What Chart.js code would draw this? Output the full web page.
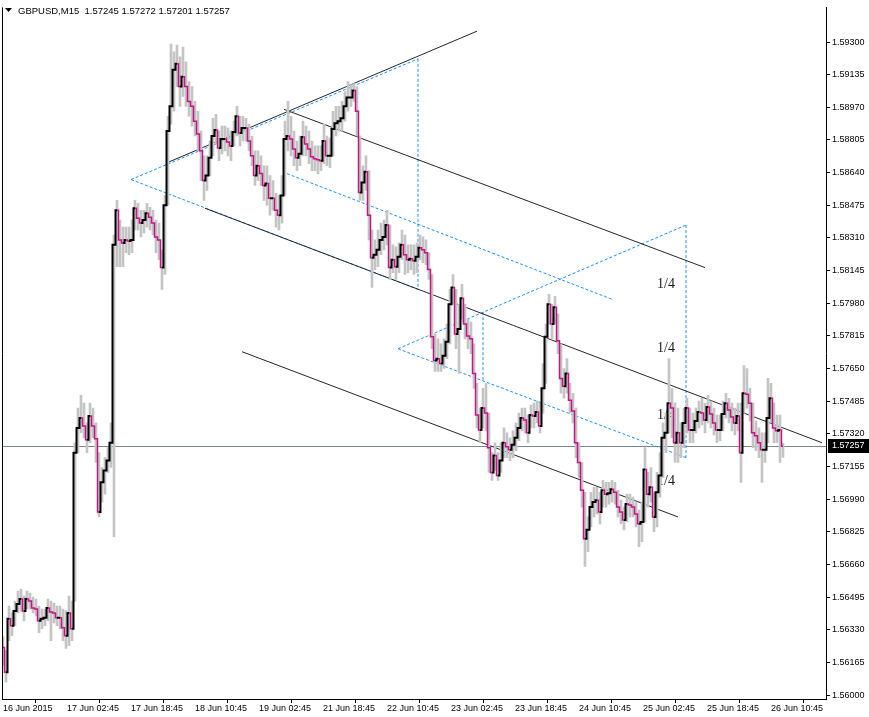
<!DOCTYPE html>
<html><head><meta charset="utf-8">
<script src="https://cdn.jsdelivr.net/npm/chart.js@4.4.0/dist/chart.umd.min.js"></script>
<style>html,body{margin:0;padding:0;background:#fff;overflow:hidden}canvas{display:block}</style>
</head><body>
<canvas id="c" width="869" height="717"></canvas>
<script>
const symbolTitle = 'GBPUSD,M15  1.57245 1.57272 1.57201 1.57257';
const lastClose = 1.57257;
const barsPerSample = 3; // M15 bars per sampled point

const closes = [
1.56240,1.56115,1.56385,1.56350,1.56425,1.56460,1.56485,1.56425,1.56485,1.56475,
1.56440,1.56435,1.56375,1.56385,1.56390,1.56440,1.56420,1.56415,1.56390,1.56390,
1.56340,1.56300,1.56415,1.56335,1.57225,1.57350,1.57400,1.57360,1.57290,1.57410,
1.57360,1.57295,1.56925,1.57075,1.57135,1.57185,1.57275,1.58275,1.58450,1.58300,
1.58285,1.58300,1.58295,1.58300,1.58460,1.58410,1.58385,1.58400,1.58435,1.58415,
1.58385,1.58315,1.58300,1.58160,1.58475,1.58850,1.58975,1.59160,1.59190,1.59075,
1.59125,1.59075,1.59000,1.58975,1.58900,1.58835,1.58750,1.58600,1.58625,1.58715,
1.58825,1.58855,1.58765,1.58810,1.58810,1.58795,1.58775,1.58845,1.58925,1.58840,
1.58865,1.58865,1.58800,1.58725,1.58625,1.58675,1.58635,1.58575,1.58585,1.58510,
1.58510,1.58450,1.58425,1.58525,1.58810,1.58825,1.58810,1.58760,1.58715,1.58735,
1.58820,1.58785,1.58760,1.58720,1.58710,1.58705,1.58700,1.58800,1.58725,1.58725,
1.58860,1.58890,1.58900,1.58915,1.58975,1.59020,1.59020,1.59055,1.58950,1.58540,
1.58590,1.58645,1.58425,1.58210,1.58225,1.58250,1.58300,1.58315,1.58375,1.58160,
1.58200,1.58165,1.58215,1.58275,1.58225,1.58200,1.58205,1.58195,1.58215,1.58260,
1.58250,1.58235,1.58150,1.57810,1.57690,1.57700,1.57675,1.57715,1.57785,1.57975,
1.58060,1.57825,1.57850,1.58005,1.57875,1.57815,1.57800,1.57625,1.57415,1.57340,
1.57450,1.57425,1.57250,1.57125,1.57210,1.57110,1.57185,1.57275,1.57255,1.57240,
1.57265,1.57300,1.57350,1.57400,1.57390,1.57325,1.57415,1.57410,1.57430,1.57360,
1.57550,1.57810,1.57975,1.57875,1.57960,1.57790,1.57600,1.57560,1.57625,1.57490,
1.57435,1.57275,1.57175,1.57035,1.56790,1.56835,1.56950,1.56975,1.56985,1.56925,
1.57035,1.57015,1.57020,1.57040,1.57025,1.56950,1.56925,1.56885,1.56965,1.56960,
1.56950,1.56915,1.56865,1.56875,1.57140,1.57015,1.57050,1.56900,1.57025,1.57110,
1.57300,1.57325,1.57475,1.57450,1.57275,1.57325,1.57275,1.57375,1.57450,1.57340,
1.57340,1.57385,1.57430,1.57425,1.57390,1.57455,1.57420,1.57375,1.57340,1.57340,
1.57420,1.57475,1.57440,1.57405,1.57375,1.57410,1.57225,1.57525,1.57520,1.57475,
1.57325,1.57310,1.57275,1.57240,1.57240,1.57400,1.57500,1.57350,1.57335,1.57340,
1.57257];

const highs = [
1.56295,1.56225,1.56450,1.56415,1.56475,1.56525,1.56535,1.56500,1.56525,1.56515,
1.56495,1.56485,1.56450,1.56435,1.56435,1.56485,1.56475,1.56465,1.56450,1.56450,
1.56435,1.56425,1.56500,1.56475,1.57275,1.57450,1.57515,1.57475,1.57375,1.57475,
1.57450,1.57375,1.57225,1.57150,1.57200,1.57250,1.57375,1.58325,1.58500,1.58400,
1.58365,1.58365,1.58365,1.58400,1.58500,1.58485,1.58450,1.58450,1.58485,1.58465,
1.58450,1.58400,1.58385,1.58250,1.58525,1.58925,1.59290,1.59250,1.59285,1.59225,
1.59275,1.59200,1.59100,1.59075,1.59000,1.58950,1.58850,1.58725,1.58725,1.58800,
1.58915,1.58935,1.58850,1.58875,1.58875,1.58865,1.58850,1.58900,1.58975,1.58925,
1.58925,1.58915,1.58885,1.58825,1.58750,1.58750,1.58725,1.58675,1.58675,1.58625,
1.58600,1.58535,1.58525,1.58625,1.58900,1.59000,1.58925,1.58850,1.58800,1.58825,
1.58900,1.58875,1.58850,1.58800,1.58775,1.58775,1.58775,1.58885,1.58825,1.58815,
1.58950,1.58975,1.58975,1.59000,1.59050,1.59100,1.59085,1.59090,1.59075,1.58825,
1.58675,1.58725,1.58650,1.58350,1.58300,1.58350,1.58385,1.58400,1.58450,1.58375,
1.58275,1.58265,1.58285,1.58350,1.58325,1.58275,1.58275,1.58275,1.58285,1.58325,
1.58315,1.58300,1.58235,1.58125,1.57825,1.57800,1.57775,1.57800,1.57875,1.58050,
1.58125,1.58050,1.57975,1.58075,1.57975,1.57900,1.57885,1.57775,1.57575,1.57450,
1.57550,1.57575,1.57425,1.57225,1.57275,1.57225,1.57275,1.57350,1.57325,1.57300,
1.57335,1.57375,1.57425,1.57450,1.57450,1.57415,1.57465,1.57475,1.57485,1.57475,
1.57675,1.57875,1.58025,1.57975,1.58015,1.57925,1.57775,1.57650,1.57700,1.57575,
1.57525,1.57450,1.57275,1.57175,1.57025,1.56900,1.57025,1.57050,1.57050,1.57025,
1.57085,1.57075,1.57075,1.57085,1.57075,1.57035,1.56985,1.56950,1.57015,1.57015,
1.57000,1.56975,1.56935,1.56975,1.57250,1.57125,1.57150,1.57025,1.57125,1.57225,
1.57375,1.57425,1.57700,1.57550,1.57475,1.57450,1.57375,1.57450,1.57500,1.57450,
1.57425,1.57450,1.57485,1.57500,1.57475,1.57515,1.57485,1.57450,1.57415,1.57415,
1.57485,1.57525,1.57500,1.57475,1.57450,1.57475,1.57475,1.57665,1.57650,1.57550,
1.57475,1.57385,1.57350,1.57325,1.57325,1.57600,1.57575,1.57475,1.57415,1.57415,
1.57272];

const lows = [
1.56150,1.56065,1.56275,1.56300,1.56350,1.56415,1.56425,1.56375,1.56435,1.56435,
1.56415,1.56400,1.56315,1.56335,1.56350,1.56375,1.56275,1.56365,1.56350,1.56335,
1.56275,1.56235,1.56250,1.56275,1.56475,1.57225,1.57325,1.57300,1.57225,1.57275,
1.57300,1.57175,1.56900,1.56975,1.57015,1.57125,1.57150,1.56800,1.58165,1.58165,
1.58165,1.58235,1.58225,1.58235,1.58350,1.58350,1.58315,1.58335,1.58365,1.58350,
1.58325,1.58235,1.58200,1.58050,1.58125,1.58475,1.58885,1.58950,1.59075,1.58975,
1.59025,1.58975,1.58925,1.58875,1.58825,1.58750,1.58600,1.58500,1.58550,1.58625,
1.58725,1.58785,1.58700,1.58735,1.58750,1.58725,1.58700,1.58775,1.58825,1.58775,
1.58800,1.58800,1.58750,1.58675,1.58575,1.58600,1.58575,1.58500,1.58475,1.58425,
1.58450,1.58365,1.58350,1.58385,1.58525,1.58750,1.58725,1.58675,1.58650,1.58675,
1.58725,1.58725,1.58685,1.58650,1.58650,1.58635,1.58650,1.58685,1.58675,1.58665,
1.58725,1.58825,1.58850,1.58850,1.58900,1.58950,1.58975,1.59000,1.58825,1.58500,
1.58500,1.58550,1.58300,1.58060,1.58150,1.58165,1.58225,1.58250,1.58275,1.58100,
1.58135,1.58100,1.58135,1.58200,1.58125,1.58135,1.58150,1.58125,1.58135,1.58200,
1.58185,1.58175,1.58100,1.57750,1.57635,1.57635,1.57635,1.57650,1.57700,1.57775,
1.57975,1.57750,1.57625,1.57900,1.57800,1.57750,1.57725,1.57550,1.57350,1.57275,
1.57350,1.57335,1.57125,1.57085,1.57135,1.57085,1.57125,1.57200,1.57200,1.57185,
1.57200,1.57235,1.57285,1.57335,1.57325,1.57275,1.57350,1.57350,1.57375,1.57325,
1.57425,1.57575,1.57875,1.57800,1.57875,1.57725,1.57525,1.57500,1.57525,1.57425,
1.57375,1.57200,1.57100,1.56950,1.56650,1.56725,1.56850,1.56900,1.56915,1.56865,
1.56950,1.56950,1.56965,1.56975,1.56965,1.56900,1.56865,1.56835,1.56875,1.56900,
1.56900,1.56850,1.56750,1.56775,1.56875,1.56950,1.56975,1.56825,1.56850,1.57000,
1.57100,1.57225,1.57325,1.57300,1.57175,1.57175,1.57200,1.57250,1.57325,1.57275,
1.57275,1.57325,1.57350,1.57365,1.57325,1.57375,1.57350,1.57315,1.57275,1.57285,
1.57335,1.57400,1.57375,1.57335,1.57315,1.57335,1.57075,1.57425,1.57450,1.57385,
1.57250,1.57235,1.57200,1.57075,1.57175,1.57275,1.57375,1.57275,1.57275,1.57175,
1.57201];

const timeTickBars = [0,64,128,192,256,320,384,448,512,576,640,704,768];
const timeTickLabels = ['16 Jun 2015','17 Jun 02:45','17 Jun 18:45','18 Jun 10:45','19 Jun 02:45','21 Jun 18:45','22 Jun 10:45','23 Jun 02:45','23 Jun 18:45','24 Jun 10:45','25 Jun 02:45','25 Jun 18:45','26 Jun 10:45'];
const priceTicks = [1.56000,1.56165,1.56330,1.56495,1.56660,1.56825,1.56990,1.57155,1.57320,1.57485,1.57650,1.57815,1.57980,1.58145,1.58310,1.58475,1.58640,1.58805,1.58970,1.59135,1.59300];

// trend lines: [startBar, startPrice, endBar, endPrice]
const solidLines = [
  [165,1.58692,474,1.59355],
  [202,1.58460,819,1.57275],
  [281,1.58960,702,1.58160],
  [239,1.57735,675,1.56900]
];
const dashedLines = [
  [128,1.58605,415,1.59215],
  [128,1.58605,415,1.58050],
  [415,1.59215,415,1.58050],
  [284,1.58635,609,1.58000],
  [395,1.57750,683,1.58375],
  [395,1.57750,683,1.57200],
  [480,1.57935,480,1.57590],
  [683,1.58375,683,1.57200]
];
const quarterLabels = ['1/4','1/4','1/4','1/4'];
const quarterPrices = [1.58078,1.57752,1.57415,1.57078];
const quarterBar = 654;

const MAGENTA = '#C71585';
const sampleBars = closes.map((_, i) => i * barsPerSample);

const lineSet = (l, color, dash, order) => ({
  type: 'line',
  data: [{x: l[0], y: l[1]}, {x: l[2], y: l[3]}],
  borderColor: color, borderWidth: 1, borderDash: dash,
  pointRadius: 0, tension: 0, order: order
});

const falling = ctx => ctx.p1.parsed.y < ctx.p0.parsed.y;

const datasets = [
  {
    type: 'line', label: 'close',
    data: closes.map((c, i) => ({x: sampleBars[i], y: c})),
    borderColor: '#000', borderWidth: 2, pointRadius: 0, tension: 0, order: 1,
    stepped: 'middle', borderJoinStyle: 'miter', borderCapStyle: 'butt',
    segment: {
      borderColor: ctx => falling(ctx) ? MAGENTA : '#000',
      borderWidth: ctx => falling(ctx) ? 1.5 : 2
    }
  },
  {
    type: 'bar', label: 'range',
    data: lows.map((l, i) => ({x: sampleBars[i], y: [l, highs[i]]})),
    backgroundColor: '#C4C4C4', borderWidth: 0, barThickness: 2, order: 2
  },
  ...solidLines.map(l => lineSet(l, '#262626', [], 3)),
  ...dashedLines.map(l => lineSet(l, '#1E90FF', [3, 2], 4))
];

const decor = {
  id: 'decor',
  beforeDatasetsDraw(chart) {
    const {ctx, chartArea: a, scales: {x, y}} = chart;
    ctx.save();
    const py = Math.round(y.getPixelForValue(lastClose)) + 0.5;
    ctx.strokeStyle = '#7A8896'; ctx.lineWidth = 1;
    ctx.beginPath(); ctx.moveTo(a.left, py); ctx.lineTo(a.right, py); ctx.stroke();
    ctx.font = '14px "Liberation Serif", "DejaVu Serif", serif';
    ctx.fillStyle = '#1a1a1a'; ctx.textBaseline = 'middle'; ctx.textAlign = 'left';
    quarterPrices.forEach((p, i) => ctx.fillText(quarterLabels[i], x.getPixelForValue(quarterBar), y.getPixelForValue(p)));
    ctx.restore();
  },
  afterDraw(chart) {
    const {ctx, chartArea: a, scales: {y}} = chart;
    ctx.save();
    ctx.strokeStyle = '#000'; ctx.lineWidth = 1;
    ctx.beginPath(); ctx.moveTo(a.left + 0.5, a.top); ctx.lineTo(a.left + 0.5, a.bottom); ctx.stroke();
    const py = Math.round(y.getPixelForValue(lastClose));
    ctx.fillStyle = '#000';
    ctx.fillRect(a.right + 2, py - 7, chart.width - a.right - 2, 14);
    ctx.fillStyle = '#fff'; ctx.font = '9px "Liberation Sans", Arial, sans-serif';
    ctx.textBaseline = 'middle'; ctx.textAlign = 'left';
    ctx.fillText(lastClose.toFixed(5), a.right + 6, py);
    ctx.fillStyle = '#000';
    ctx.beginPath(); ctx.moveTo(5, 8); ctx.lineTo(12, 8); ctx.lineTo(8.5, 12); ctx.closePath(); ctx.fill();
    ctx.font = '9.5px "Liberation Sans", Arial, sans-serif';
    ctx.fillText(symbolTitle, 18, 11);
    ctx.restore();
  }
};

Chart.defaults.font.family = '"Liberation Sans", Arial, sans-serif';
Chart.defaults.font.size = 9;
Chart.defaults.color = '#000';

new Chart(document.getElementById('c'), {
  type: 'bar',
  data: { datasets },
  options: {
    responsive: false, animation: false, devicePixelRatio: 1,
    layout: { padding: { left: 2, top: 0, right: 0, bottom: 0 } },
    plugins: { legend: { display: false }, tooltip: { enabled: false } },
    scales: {
      x: {
        type: 'linear', position: 'bottom', min: -1, max: 823, offset: false,
        afterFit: s => { s.height = 18; },
        afterBuildTicks: s => { s.ticks = timeTickBars.map(v => ({value: v})); },
        grid: { drawOnChartArea: false, tickLength: 4, color: '#000', tickColor: '#000' },
        border: { color: '#000' },
        ticks: {
          autoSkip: false, maxRotation: 0, align: 'start', padding: 0,
          callback: v => { const k = timeTickBars.indexOf(v); return k >= 0 ? timeTickLabels[k] : ''; }
        }
      },
      y: {
        type: 'linear', position: 'right', min: 1.55980, max: 1.59475,
        afterFit: s => { s.width = 43; },
        afterBuildTicks: s => { s.ticks = priceTicks.map(v => ({value: v})); },
        grid: { drawOnChartArea: false, tickLength: 4, color: '#000', tickColor: '#000' },
        border: { color: '#000' },
        ticks: { padding: 2, callback: v => v.toFixed(5) }
      }
    }
  },
  plugins: [decor]
});
</script>
</body></html>
